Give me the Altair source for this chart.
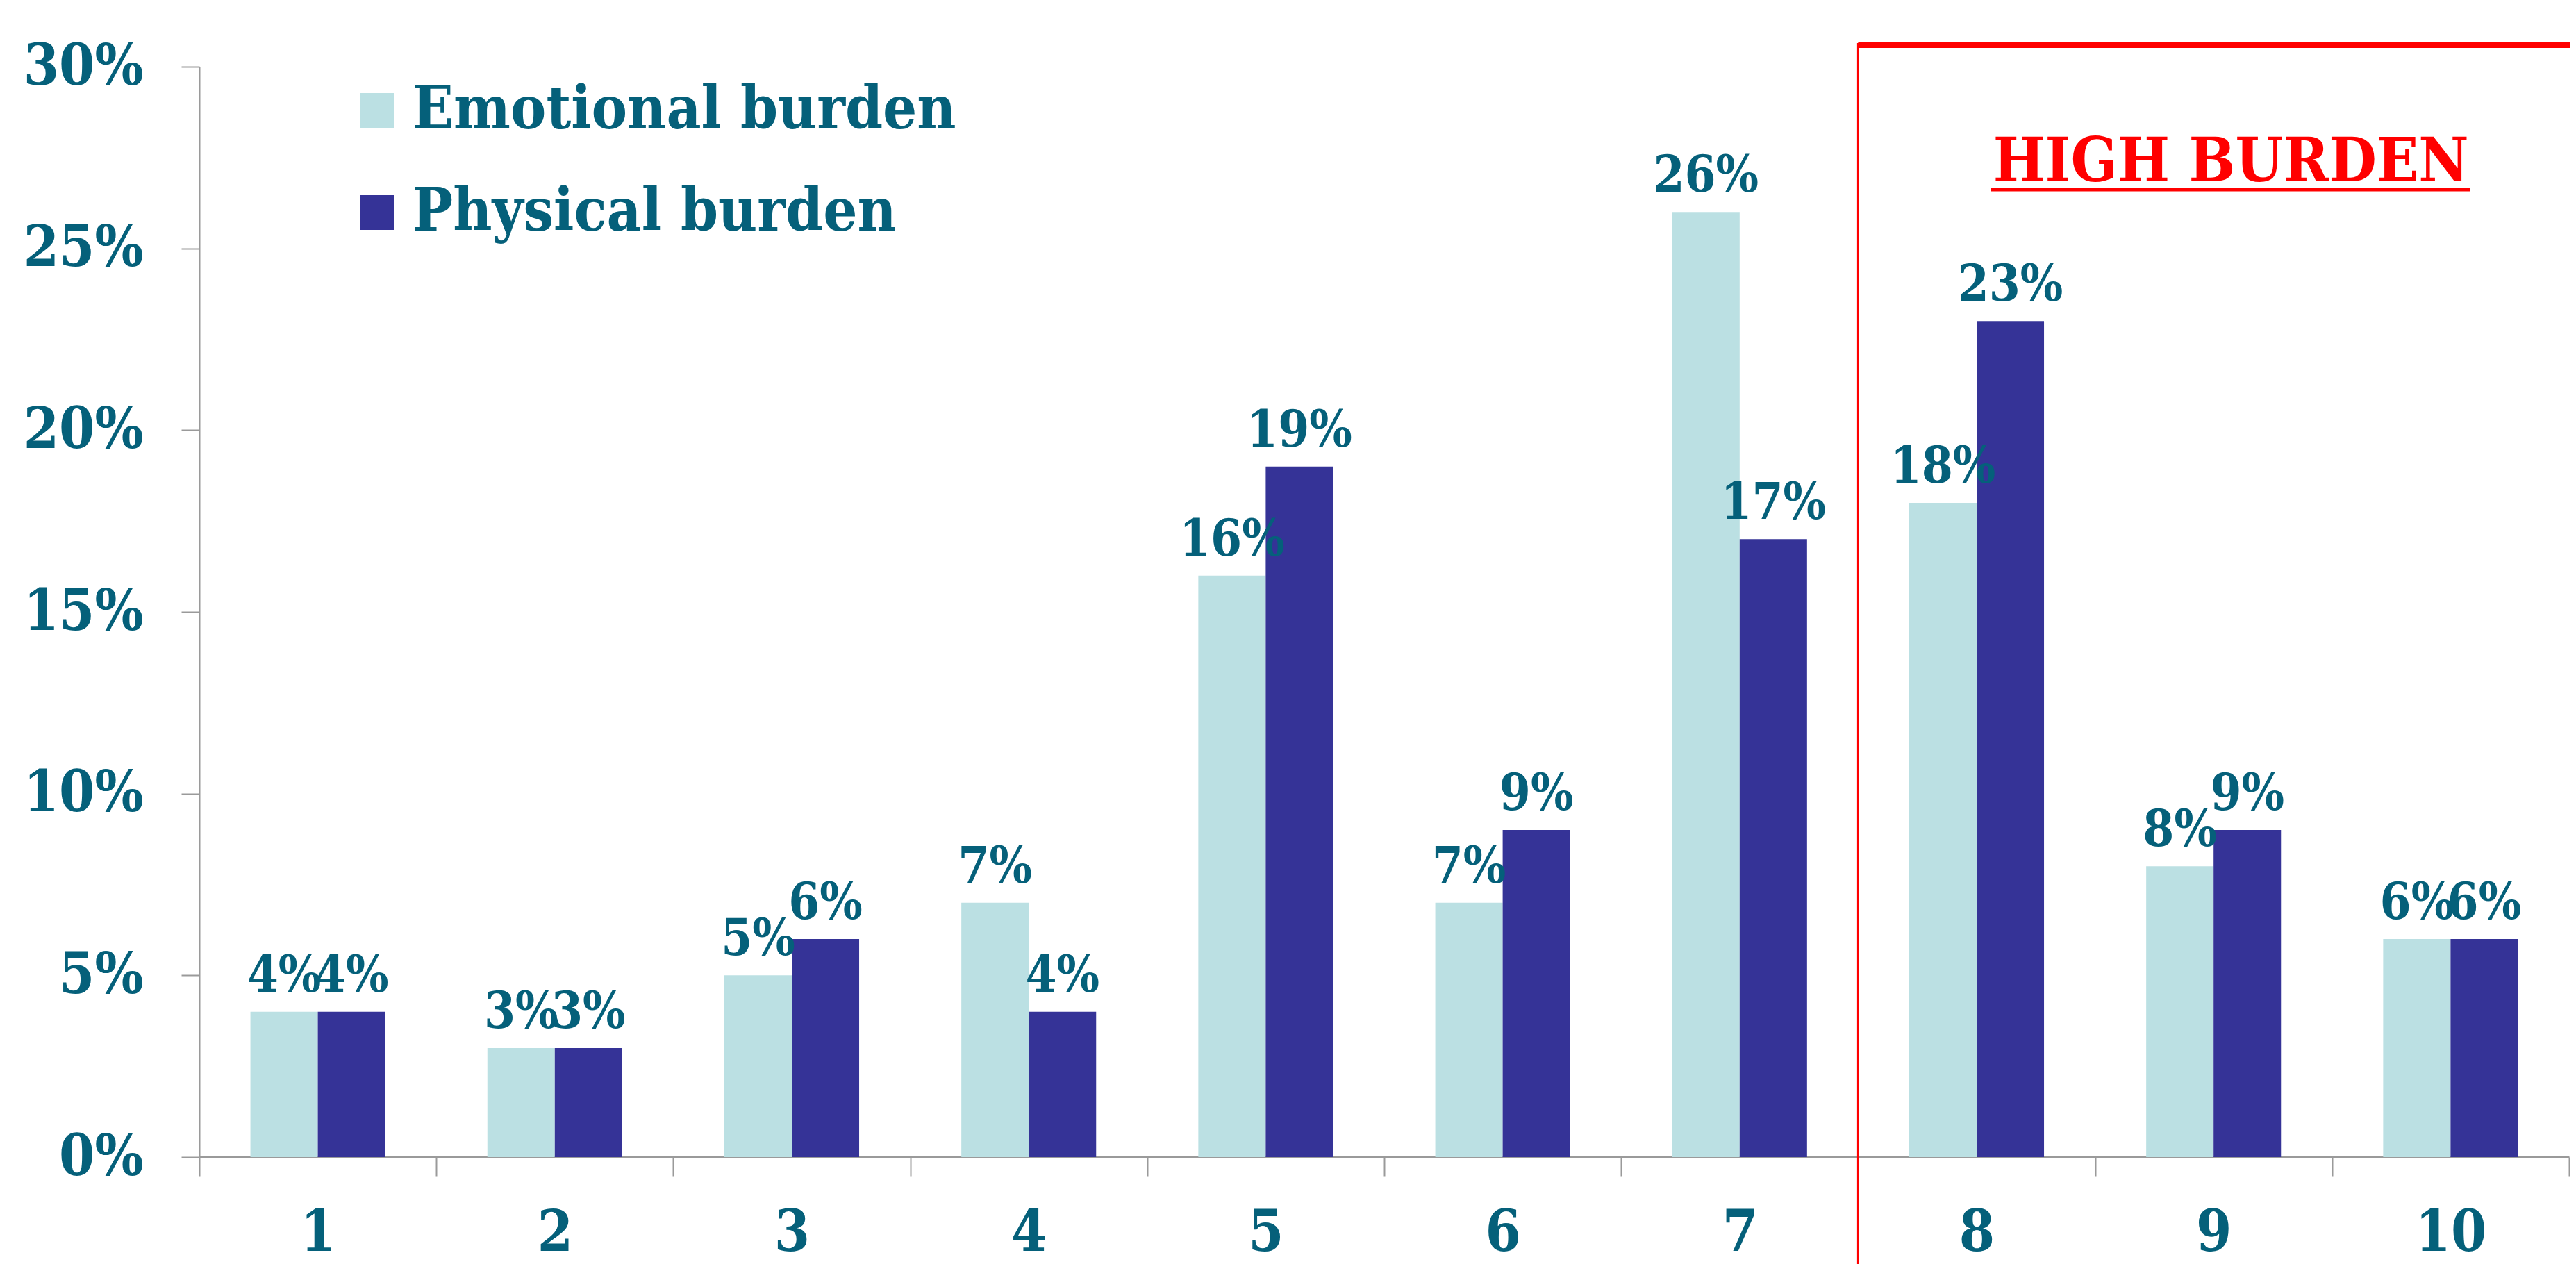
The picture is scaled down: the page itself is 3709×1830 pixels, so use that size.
import altair as alt
import pandas as pd

categories = ["1", "2", "3", "4", "5", "6", "7", "8", "9", "10"]
series = ["Emotional burden", "Physical burden"]
emotional = [4, 3, 5, 7, 16, 7, 26, 18, 8, 6]
physical = [4, 3, 6, 4, 19, 9, 17, 23, 9, 6]
y_ticks = [0, 0.05, 0.10, 0.15, 0.20, 0.25, 0.30]
high_label = "HIGH BURDEN"
high_start = "8"
high_center = "9"

TEAL = "#05607A"
LIGHT = "#BBE0E3"
DARK = "#353397"
RED = "#FF0000"
GRAY = "#9A9A9A"
FONT = "'DejaVu Serif Condensed', 'DejaVu Serif', serif"

rows = []
for c, e, p in zip(categories, emotional, physical):
    rows.append({"cat": c, "series": series[0], "value": e / 100, "label": f"{e}%"})
    rows.append({"cat": c, "series": series[1], "value": p / 100, "label": f"{p}%"})
df = pd.DataFrame(rows)

W, H = 3412, 1570

x_enc = alt.X(
    "cat:N", sort=categories, title=None,
    scale=alt.Scale(paddingInner=0, paddingOuter=0),
    axis=alt.Axis(
        labelAngle=0, labelFont=FONT, labelFontSize=82, labelFontWeight="bold",
        labelColor=TEAL, tickBand="extent", tickSize=27, tickColor=GRAY, tickWidth=2,
        domainColor=GRAY, domainWidth=3, labelPadding=42, grid=False,
    ),
)
xoff = alt.XOffset("series:N", sort=series,
                   scale=alt.Scale(domain=series, paddingOuter=0.758, paddingInner=0))
y_enc = alt.Y(
    "value:Q", title=None,
    scale=alt.Scale(domain=[0, 0.30], nice=False),
    axis=alt.Axis(
        format=".0%", values=y_ticks, labelFont=FONT, labelFontSize=82,
        labelFontWeight="bold", labelColor=TEAL, tickSize=26, tickColor=GRAY,
        tickWidth=2, domainColor=GRAY, domainWidth=2, labelPadding=55, grid=False,
    ),
)

base = alt.Chart(df)
bars = base.mark_bar().encode(
    x=x_enc, xOffset=xoff, y=y_enc,
    color=alt.Color(
        "series:N", sort=series,
        scale=alt.Scale(domain=series, range=[LIGHT, DARK]),
        legend=alt.Legend(
            title=None, orient="none", legendX=213, legendY=20,
            symbolType="square", symbolSize=2500, symbolStrokeWidth=0,
            labelFont=FONT, labelFontSize=86, labelFontWeight="bold",
            labelColor=TEAL, labelLimit=2000, labelOffset=8, rowPadding=61,
            padding=0,
        ),
    ),
)
labels = base.mark_text(
    font=FONT, fontSize=72, fontWeight="bold", color=TEAL,
    baseline="alphabetic", align="center", dy=-29,
).encode(x=alt.X("cat:N", sort=categories), xOffset=xoff, y="value:Q", text="label:N")

mark_df = pd.DataFrame({"cat": [high_start]})
vline = alt.Chart(mark_df).mark_rule(color=RED, strokeWidth=3).encode(
    x=alt.X("cat:N", sort=categories, bandPosition=0),
    y=alt.value(-34), y2=alt.value(1740),
)
hline = alt.Chart(mark_df).mark_rule(color=RED, strokeWidth=8).encode(
    x=alt.X("cat:N", sort=categories, bandPosition=0),
    x2=alt.value(W + 2), y=alt.value(-31),
)
text_df = pd.DataFrame({"cat": [high_center], "t": [high_label]})
htext = alt.Chart(text_df).mark_text(
    font=FONT, fontSize=88, fontWeight="bold", color=RED,
    baseline="alphabetic", align="center", dx=25,
).encode(x=alt.X("cat:N", sort=categories), y=alt.value(165), text="t:N")
underline = alt.Chart(text_df).mark_rule(color=RED, strokeWidth=5).encode(
    x=alt.value(2580), x2=alt.value(3270), y=alt.value(177),
)

chart = alt.layer(bars, labels, vline, hline, htext, underline).properties(
    width=W, height=H,
    autosize=alt.AutoSizeParams(type="none"),
    padding={"left": 279, "top": 88, "right": 2, "bottom": 154},
).configure_view(strokeWidth=0)

chart.save("out.html", embed_options={"renderer": "svg", "actions": False})
